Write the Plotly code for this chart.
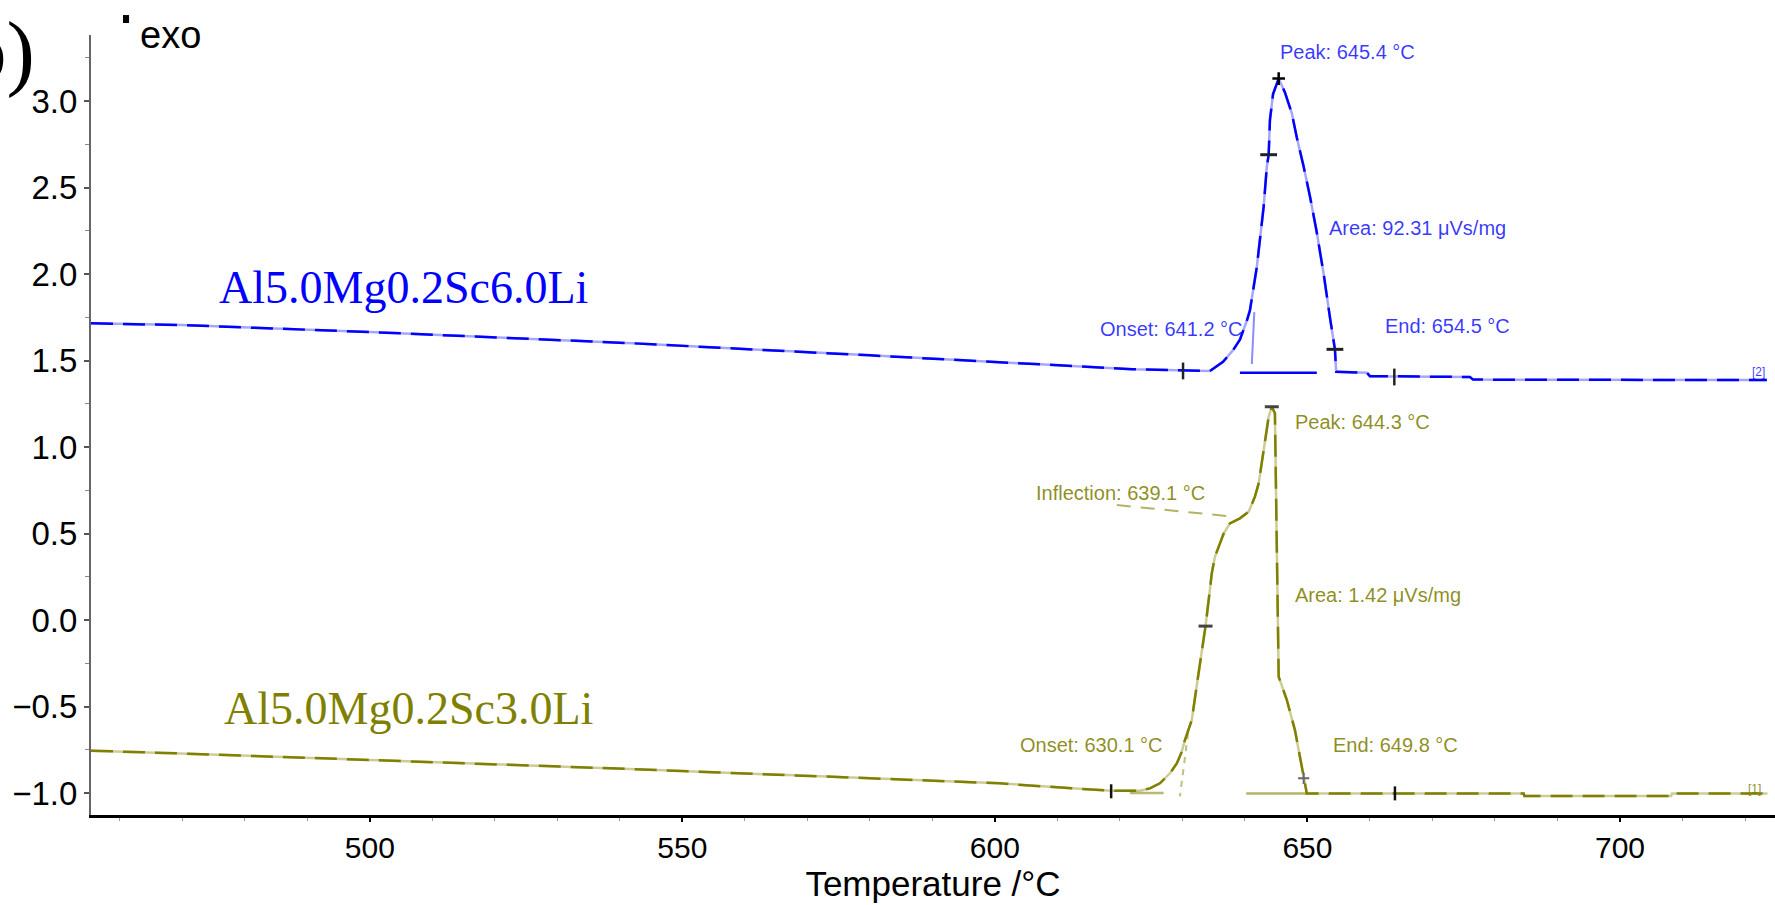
import plotly.graph_objects as go

# ---------------- data ----------------
blue_T = [455.4, 470, 500, 542, 580, 614, 622, 634.4, 636.5, 638.1, 639.2, 640.3, 640.8, 641.9,
          642.4, 643.0, 643.5, 643.8, 644.0, 644.5, 645.4, 646.4, 647.5, 648.3, 649.4, 650.4,
          651.5, 652.6, 653.6, 654.2, 654.4, 654.6, 659.5, 660.0, 676.0, 676.5, 700, 723.5]
blue_y = [1.715, 1.705, 1.665, 1.60, 1.53, 1.465, 1.45, 1.44, 1.493, 1.56, 1.62, 1.73, 1.79, 2.04,
          2.20, 2.39, 2.62, 2.69, 2.89, 3.04, 3.13, 3.05, 2.93, 2.79, 2.62, 2.45,
          2.24, 2.00, 1.75, 1.62, 1.565, 1.435, 1.43, 1.41, 1.405, 1.39, 1.388, 1.387]

olive_T = [455.4, 469.6, 541.6, 600.8, 612.3, 618.6, 623.2, 624.8, 626.4, 628.0, 629.1, 629.9,
           630.4, 631.0, 631.5, 632.5, 633.3, 633.7, 634.2, 634.7, 635.2, 635.8, 636.6, 637.6,
           639.2, 640.6, 641.6, 642.2, 642.7, 643.2, 643.8, 644.3, 644.8, 645.1, 645.4, 646.7,
           648.0, 648.8, 649.4, 649.9, 684.6, 684.7, 708.2, 708.3, 723.6]
olive_y = [-0.755, -0.771, -0.861, -0.944, -0.973, -0.987, -0.987, -0.973, -0.944, -0.886, -0.829, -0.761,
           -0.694, -0.636, -0.578, -0.328, -0.135, -0.035, 0.116, 0.27, 0.366, 0.424, 0.50, 0.559,
           0.588, 0.626, 0.713, 0.79, 0.905, 1.04, 1.175, 1.233, 1.195, 0.424, -0.328, -0.462,
           -0.636, -0.79, -0.915, -1.002, -1.002, -1.017, -1.017, -1.002, -1.002]

# evaluation construction lines
blue_tan_T, blue_tan_y = [641.5, 641.1], [1.78, 1.48]
blue_base_T, blue_base_y = [639.2, 651.5], [1.43, 1.43]
olive_tan_T, olive_tan_y = [630.9, 629.6], [-0.655, -1.02]
olive_baseL_T, olive_baseL_y = [621.6, 627.0], [-1.0, -1.0]
olive_baseR_T, olive_baseR_y = [640.2, 650.0], [-1.002, -1.002]
olive_infl_T, olive_infl_y = [619.5, 638.2], [0.665, 0.597]

# evaluation markers
blue_peak = (645.4, 3.13)
blue_hticks_T, blue_hticks_y = [643.8, 654.4], [2.69, 1.565]
blue_vticks_T, blue_vticks_y = [630.1, 663.9], [1.44, 1.405]
olive_hticks_T, olive_hticks_y = [644.3, 633.7], [1.233, -0.035]
olive_vticks_T, olive_vticks_y = [618.6, 664.0], [-0.99, -1.002]
olive_end = (649.4, -0.915)

# texts
series_names = ["Al5.0Mg0.2Sc6.0Li", "Al5.0Mg0.2Sc3.0Li"]
blue_texts = ["Peak: 645.4 °C", "Area: 92.31 μVs/mg", "Onset: 641.2 °C", "End: 654.5 °C"]
olive_texts = ["Peak: 644.3 °C", "Inflection: 639.1 °C", "Area: 1.42 μVs/mg", "Onset: 630.1 °C", "End: 649.8 °C"]
x_ticks = [500, 550, 600, 650, 700]
y_ticks = [-1.0, -0.5, 0.0, 0.5, 1.0, 1.5, 2.0, 2.5, 3.0]
y_ticktext = ["−1.0", "−0.5", "0.0", "0.5", "1.0", "1.5", "2.0", "2.5", "3.0"]

BLUE = "#0000FF"
OLIVE = "#808000"
SANS = "Liberation Sans, Arial, sans-serif"
SERIF = "Liberation Serif, Times New Roman, serif"

fig = go.Figure()

def line(T, y, color, width=2.5, dash=None):
    fig.add_trace(go.Scatter(x=T, y=y, mode="lines", showlegend=False, hoverinfo="skip",
                             line=dict(color=color, width=width, dash=dash)))

# main curves: pale under-layer + dashed strong layer (mimics the rasterised look)
line(blue_T, blue_y, "rgba(0,0,255,0.35)", 2.5)
line(blue_T, blue_y, BLUE, 2.5, "22px,10px")
line(olive_T, olive_y, "rgba(128,128,0,0.4)", 2.5)
line(olive_T, olive_y, OLIVE, 2.5, "22px,10px")

# construction lines
line(blue_tan_T, blue_tan_y, "rgba(0,0,255,0.45)", 2)
line(blue_base_T, blue_base_y, BLUE, 2.5)
line(olive_tan_T, olive_tan_y, "rgba(128,128,0,0.5)", 2, "6px,6px")
line(olive_baseL_T, olive_baseL_y, "rgba(128,128,0,0.55)", 2.5)
line(olive_baseR_T, olive_baseR_y, "rgba(128,128,0,0.6)", 2.5)
line(olive_infl_T, olive_infl_y, "rgba(128,128,0,0.6)", 2, "14px,10px")

def marks(T, y, symbol, color, size=11, w=2.5):
    fig.add_trace(go.Scatter(x=T, y=y, mode="markers", showlegend=False, hoverinfo="skip",
                             marker=dict(symbol=symbol, size=size, color=color,
                                         line=dict(color=color, width=w))))

marks([blue_peak[0]], [blue_peak[1]], "cross-thin", "black", 9, 2.5)
marks(blue_hticks_T, blue_hticks_y, "line-ew", "#222222", 12, 3)
marks(blue_vticks_T, blue_vticks_y, "line-ns", "#222222", 12, 2.5)
marks(olive_hticks_T, olive_hticks_y, "line-ew", "#444444", 10, 3)
marks(olive_vticks_T, olive_vticks_y, "line-ns", "#111111", 10, 2.5)
marks([olive_end[0]], [olive_end[1]], "cross-thin", "#666666", 8, 2)

ann = []
def txt(x, y, s, color, size=20, xa="left", font=SANS, xref="x", yref="y"):
    ann.append(dict(x=x, y=y, text=s, showarrow=False, xanchor=xa, yanchor="middle",
                    xref=xref, yref=yref, font=dict(family=font, size=size, color=color)))

bc = "rgba(0,0,255,0.78)"
oc = "rgba(128,128,0,0.88)"
txt(645.3, 3.286, blue_texts[0], bc)
txt(653.2, 2.266, blue_texts[1], bc)
txt(640.0, 1.685, blue_texts[2], bc, xa="right")
txt(662.1, 1.702, blue_texts[3], bc)
txt(647.7, 1.147, olive_texts[0], oc)
txt(634.0, 0.737, olive_texts[1], oc, xa="right")
txt(647.7, 0.147, olive_texts[2], oc)
txt(627.2, -0.723, olive_texts[3], oc, xa="right")
txt(653.8, -0.723, olive_texts[4], oc)
txt(720.8, 1.433, "[2]", bc, size=12)
txt(720.2, -0.975, "[1]", oc, size=12)

txt(475.6, 1.92, series_names[0], BLUE, size=46, font=SERIF)
txt(476.4, -0.509, series_names[1], OLIVE, size=46, font=SERIF)

# panel letter and exo marker
txt(-0.032, 0.979, "b)", "black", size=85, xa="right", font=SERIF, xref="paper", yref="paper")
txt(0.0279, 1.0, "exo", "black", size=38, xref="paper", yref="paper")

fig.update_layout(
    width=1775, height=905,
    margin=dict(l=91, r=0, t=35, b=90),
    paper_bgcolor="white", plot_bgcolor="white",
    annotations=ann,
    shapes=[dict(type="rect", xref="paper", yref="paper", x0=0.019, x1=0.0226,
                 y0=1.0154, y1=1.0256, fillcolor="black", line=dict(width=0))],
    xaxis=dict(range=[455.4, 724.8], tickvals=x_ticks, ticks="outside", ticklen=4,
               tickwidth=2, tickcolor="black", showline=True, linecolor="black", linewidth=3,
               showgrid=False, zeroline=False,
               tickfont=dict(family=SANS, size=30, color="black"),
               minor=dict(dtick=10, ticks="outside", ticklen=3, tickcolor="#999999", tickwidth=1),
               title=dict(text="Temperature /°C", font=dict(family=SANS, size=35, color="black"),
                          standoff=4)),
    yaxis=dict(range=[-1.127, 3.382], tickvals=y_ticks, ticktext=y_ticktext,
               ticks="outside", ticklen=5, tickwidth=2, tickcolor="#555555",
               showline=True, linecolor="#666666", linewidth=2, showgrid=False, zeroline=False,
               tickfont=dict(family=SANS, size=33, color="black"),
               minor=dict(dtick=0.25, ticks="outside", ticklen=4, tickcolor="#888888", tickwidth=1)),
)

fig.write_html("out.html", config={"displayModeBar": False},
               post_script="document.body.style.margin='0';document.body.style.overflow='hidden';")
